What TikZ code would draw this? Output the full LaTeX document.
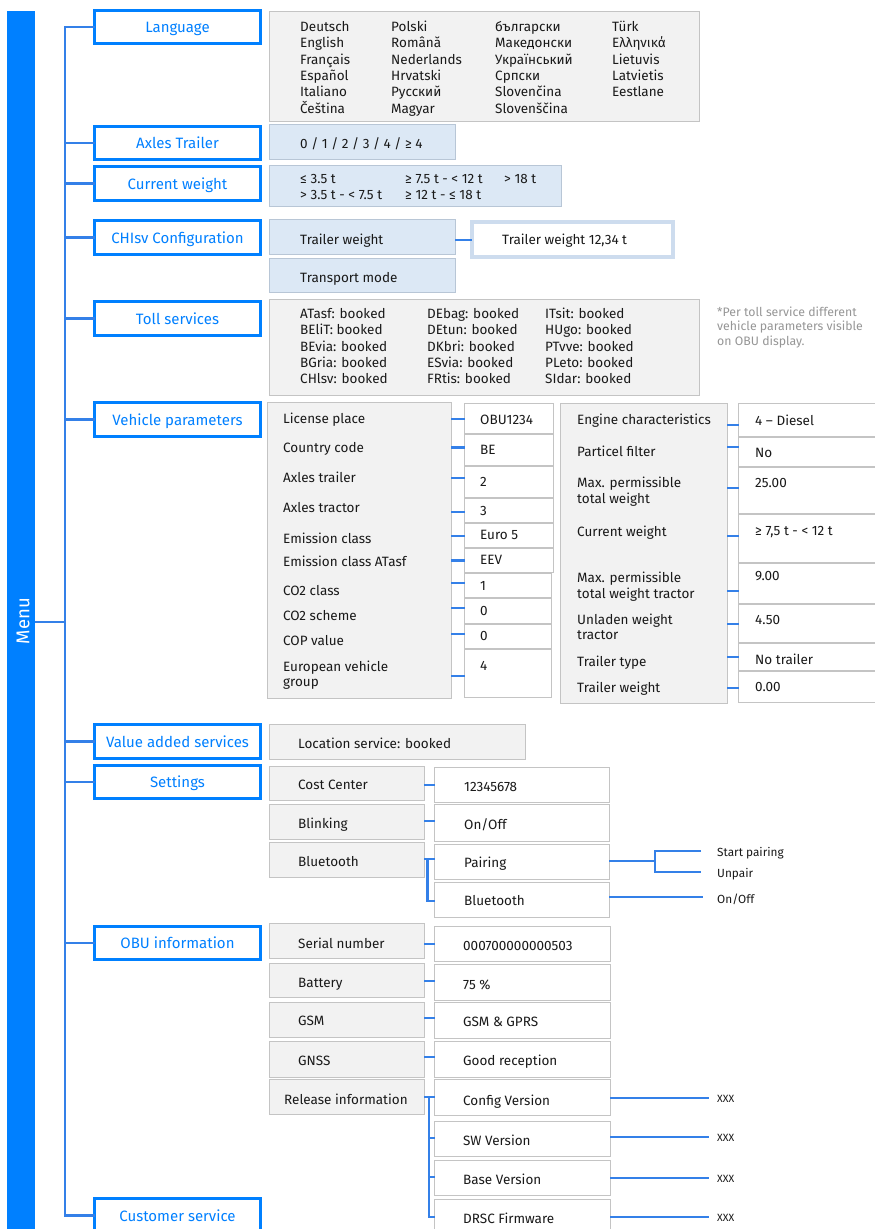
\documentclass[tikz,border=0pt]{standalone}
\usepackage{fontspec}
\setmainfont{Fira Sans}
\usetikzlibrary{calc}
\definecolor{menublue}{RGB}{0,128,255}
\definecolor{linkblue}{RGB}{52,128,232}
\definecolor{grayfill}{RGB}{242,242,242}
\definecolor{grayline}{RGB}{196,196,196}
\definecolor{lbfill}{RGB}{220,232,245}
\definecolor{lbline}{RGB}{184,198,214}
\definecolor{twvline}{RGB}{205,220,238}
\definecolor{txtc}{RGB}{25,25,25}
\definecolor{notec}{RGB}{150,150,150}
\tikzset{
  menubox/.style={draw=menublue, line width=3pt, fill=white, text=menublue, font=\fontsize{15}{18}\selectfont, text height=11pt, text depth=0pt},
  graybox/.style={draw=grayline, line width=1pt, fill=grayfill},
  bluebox/.style={draw=lbline, line width=1pt, fill=lbfill},
  valbox/.style={draw=grayline, line width=1pt, fill=white},
  twvbox/.style={draw=twvline, line width=3.5pt, fill=white},
  conn/.style={draw=linkblue, line width=2.5pt},
  thinconn/.style={draw=linkblue, line width=2.3pt},
  txt/.style={anchor=base west, inner sep=0, text=txtc, font=\fontsize{13.5}{16}\selectfont},
  smalltxt/.style={anchor=base west, inner sep=0, text=txtc, font=\fontsize{11.8}{14}\selectfont},
  notetxt/.style={anchor=base west, inner sep=0, text=notec, font=\fontsize{12.3}{14}\selectfont},
}
% box from corners: name, x1, y1, x2, y2, style, text
\newcommand\bx[7]{\node[#6, anchor=north west, minimum width={#4pt-#2pt}, minimum height={#5pt-#3pt}, inner sep=0, outer sep=0] (#1) at (#2,#3) {#7};}
% text: name, x, ycenter, text
\newcommand\tx[4]{\node[txt] (#1) at ({#2},{#3+4.6}) {#4};}
\newcommand\sx[4]{\node[smalltxt] (#1) at ({#2},{#3+4}) {#4};}
\begin{document}
\begin{tikzpicture}[x=1pt,y=-1pt]
\useasboundingbox (0,0) rectangle (875,1229);
\clip (0,0) rectangle (875,1229);
\fill[white] (0,0) rectangle (875,1229);

% Menu bar
\node[fill=menublue, anchor=north west, minimum width=28pt, minimum height=1225pt, inner sep=0, outer sep=0] (menubar) at (7,11) {};
\node[rotate=90, text=white, inner sep=0, font=\fontsize{18.5}{20}\selectfont] (menutxt) at (23,621) {Menu};

% Menu boxes
\bx{lang}{94.5}{10.5}{260.5}{43.5}{menubox}{Language}
\bx{axl}{94.5}{126.5}{260.5}{159.5}{menubox}{Axles Trailer}
\bx{cw}{94.5}{166.5}{260.5}{200.5}{menubox}{Current weight}
\bx{chi}{94.5}{220.5}{260.5}{254.5}{menubox}{CHIsv Configuration}
\bx{toll}{94.5}{301.5}{260.5}{335.5}{menubox}{Toll services}
\bx{veh}{94.5}{402.5}{260.5}{436.5}{menubox}{Vehicle parameters}
\bx{vas}{94.5}{724.5}{260.5}{758.5}{menubox}{Value added services}
\bx{set}{94.5}{765.5}{260.5}{798.5}{menubox}{Settings}
\bx{obu}{94.5}{926.5}{260.5}{959.5}{menubox}{OBU information}
\bx{cust}{94.5}{1198.5}{260.5}{1232.5}{menubox}{Customer service}

% Trunk
\coordinate (tk) at (65,0);
\draw[conn] (lang.west) -- (lang.west -| tk) |- (cust.west);
\foreach \n in {axl,cw,chi,toll,veh,vas,set,obu}
  \draw[conn] (\n.west -| tk) -- (\n.west);
\draw[conn] (menubar.east |- 0,622) -- (tk |- 0,622);

% Language
\bx{langc}{269.5}{11.5}{699}{121}{graybox}{}
\foreach \t [count=\i] in {Deutsch,English,Français,Español,Italiano,Čeština}
  \tx{la\i}{300}{27+16.3*(\i-1)}{\t};
\foreach \t [count=\i] in {Polski,Română,Nederlands,Hrvatski,Русский,Magyar}
  \tx{lb\i}{391}{27+16.3*(\i-1)}{\t};
\foreach \t [count=\i] in {български,Македонски,Український,Српски,Slovenčina,Slovenščina}
  \tx{lc\i}{495}{27+16.3*(\i-1)}{\t};
\foreach \t [count=\i] in {Türk,Ελληνικά,Lietuvis,Latvietis,Eestlane}
  \tx{ld\i}{612}{27+16.3*(\i-1)}{\t};

% Axles trailer
\bx{axlc}{269.5}{124.5}{455}{159}{bluebox}{}
\tx{axlt}{300}{144}{0 / 1 / 2 / 3 / 4 / ≥ 4}

% Current weight
\bx{cwc}{269.5}{165.5}{561}{206}{bluebox}{}
\tx{cw1}{300}{179}{≤ 3.5 t}
\tx{cw2}{405}{179}{≥ 7.5 t - < 12 t}
\tx{cw3}{504}{179}{> 18 t}
\tx{cw4}{300}{195}{> 3.5 t - < 7.5 t}
\tx{cw5}{405}{195}{≥ 12 t - ≤ 18 t}

% CHIsv configuration
\bx{tw}{269.5}{219.5}{455}{254}{bluebox}{}
\tx{twt}{300}{240}{Trailer weight}
\bx{tm}{269.5}{258}{455}{292}{bluebox}{}
\tx{tmt}{300}{278}{Transport mode}
\bx{twv}{472}{222}{673}{257}{twvbox}{}
\tx{twvt}{502}{240}{Trailer weight 12,34 t}
\draw[thinconn] (tw.east |- 0,240) -- (twv.west |- 0,240);

% Toll services
\bx{tollc}{269.5}{299.5}{699}{395}{graybox}{}
\foreach \t [count=\i] in {ATasf,BEliT,BEvia,BGria,CHlsv}
  \tx{ta\i}{300}{314+16.3*(\i-1)}{\t: booked};
\foreach \t [count=\i] in {DEbag,DEtun,DKbri,ESvia,FRtis}
  \tx{tb\i}{427}{314+16.3*(\i-1)}{\t: booked};
\foreach \t [count=\i] in {ITsit,HUgo,PTvve,PLeto,SIdar}
  \tx{tc\i}{545}{314+16.3*(\i-1)}{\t: booked};
\foreach \t [count=\i] in {*Per toll service different,vehicle parameters visible,on OBU display.}
  \node[notetxt] (note\i) at (717,{312+4.2+14.5*(\i-1)}) {\t};

% Vehicle parameters, left column
\bx{vpl}{267.5}{402.5}{451}{698}{graybox}{}
\tx{p1}{283}{419}{License place}
\tx{p2}{283}{448}{Country code}
\tx{p3}{283}{478}{Axles trailer}
\tx{p4}{283}{508}{Axles tractor}
\tx{p5}{283}{539}{Emission class}
\tx{p6}{283}{562}{Emission class ATasf}
\tx{p7}{283}{591}{CO2 class}
\tx{p8}{283}{616}{CO2 scheme}
\tx{p9}{283}{641}{COP value}
\tx{p10}{283}{667}{European vehicle}
\tx{p10b}{283}{682}{group}
\bx{v1}{464.5}{403.5}{553}{433}{valbox}{}
\bx{v2}{464.5}{434}{553}{465}{valbox}{}
\bx{v3}{464.5}{466}{553}{497}{valbox}{}
\bx{v4}{464.5}{498}{553}{522}{valbox}{}
\bx{v5}{464.5}{523}{553}{547}{valbox}{}
\bx{v6}{464.5}{548}{553}{572}{valbox}{}
\bx{v7}{464.5}{573}{551.5}{597}{valbox}{}
\bx{v8}{464.5}{598}{551.5}{623}{valbox}{}
\bx{v9}{464.5}{624}{551.5}{648}{valbox}{}
\bx{v10}{464.5}{649}{551.5}{697}{valbox}{}
\tx{vt1}{480}{420}{OBU1234}
\tx{vt2}{480}{450}{BE}
\tx{vt3}{480}{482}{2}
\tx{vt4}{480}{511}{3}
\tx{vt5}{480}{535}{Euro 5}
\tx{vt6}{480}{560}{EEV}
\tx{vt7}{480}{586}{1}
\tx{vt8}{480}{611}{0}
\tx{vt9}{480}{636}{0}
\tx{vt10}{480}{666}{4}
\foreach \i/\y in {1/419,2/447.5,3/478,4/512,5/536,6/560.5,7/583,8/608,9/634,10/676}
  \draw[thinconn] (vpl.east |- 0,\y) -- (v\i.west |- 0,\y);

% Vehicle parameters, right column
\bx{vpr}{560}{403.5}{727}{703}{graybox}{}
\tx{q1}{577}{420}{Engine characteristics}
\tx{q2}{577}{452}{Particel filter}
\tx{q3}{577}{483}{Max. permissible}
\tx{q3b}{577}{499}{total weight}
\tx{q4}{577}{532}{Current weight}
\tx{q5}{577}{578}{Max. permissible}
\tx{q5b}{577}{594}{total weight tractor}
\tx{q6}{577}{620}{Unladen weight}
\tx{q6b}{577}{635}{tractor}
\tx{q7}{577}{662}{Trailer type}
\tx{q8}{577}{688}{Trailer weight}
\bx{w1}{738.5}{403.5}{885}{436}{valbox}{}
\bx{w2}{738.5}{437}{885}{466}{valbox}{}
\bx{w3}{738.5}{467}{885}{513}{valbox}{}
\bx{w4}{738.5}{514}{885}{562}{valbox}{}
\bx{w5}{738.5}{563}{885}{603}{valbox}{}
\bx{w6}{738.5}{604}{885}{642}{valbox}{}
\bx{w7}{738.5}{643}{885}{670}{valbox}{}
\bx{w8}{738.5}{671}{885}{702}{valbox}{}
\tx{wt1}{755}{421}{4 – Diesel}
\tx{wt2}{755}{453}{No}
\tx{wt3}{755}{483}{25.00}
\tx{wt4}{755}{531}{≥ 7,5 t - < 12 t}
\tx{wt5}{755}{576}{9.00}
\tx{wt6}{755}{620}{4.50}
\tx{wt7}{755}{660}{No trailer}
\tx{wt8}{755}{687}{0.00}
\foreach \i/\y in {1/425,2/447,3/488,4/536,5/591,6/624,7/657,8/688}
  \draw[thinconn] (vpr.east |- 0,\y) -- (w\i.west |- 0,\y);

% Value added services
\bx{vasc}{269.5}{724}{525}{759}{graybox}{}
\tx{vast}{298}{744}{Location service: booked}

% Settings
\bx{cc}{269.5}{766}{424}{800}{graybox}{}
\bx{bl}{269.5}{804}{424}{839}{graybox}{}
\bx{bt}{269.5}{842}{424}{877}{graybox}{}
\tx{cct}{298}{785}{Cost Center}
\tx{blt}{298}{824}{Blinking}
\tx{btt}{298}{862}{Bluetooth}
\bx{ccv}{434.5}{767}{609}{802}{valbox}{}
\bx{blv}{434.5}{804}{609}{841}{valbox}{}
\bx{pr}{434.5}{844}{609}{879}{valbox}{}
\bx{btv}{434.5}{882}{609}{917}{valbox}{}
\tx{ccvt}{464}{787}{12345678}
\tx{blvt}{464}{825}{On/Off}
\tx{prt}{464}{863}{Pairing}
\tx{btvt}{464}{901}{Bluetooth}
\draw[thinconn] (cc.east |- 0,785) -- (ccv.west |- 0,785);
\draw[thinconn] (bl.east |- 0,821) -- (blv.west |- 0,821);
\coordinate (btj) at (427.5,859);
\draw[thinconn] (bt.east |- btj) -- (pr.west |- btj);
\draw[thinconn] (btj) |- (btv.west |- 0,901);
\coordinate (pj) at (655,861);
\coordinate (spe) at (701,851);
\coordinate (upe) at (701,872);
\coordinate (bte) at (703,897);
\draw[thinconn] (pr.east |- pj) -- (pj);
\draw[thinconn] (spe) -| (pj) |- (upe);
\draw[thinconn] (btv.east |- bte) -- (bte);
\sx{sp}{717}{852}{Start pairing}
\sx{up}{717}{873}{Unpair}
\sx{bo}{717}{899}{On/Off}

% OBU information
\bx{sn}{269.5}{923}{424}{958}{graybox}{}
\bx{bat}{269.5}{963}{424}{997}{graybox}{}
\bx{gsm}{269.5}{1002}{424}{1037}{graybox}{}
\bx{gnss}{269.5}{1041}{424}{1077}{graybox}{}
\bx{rel}{269.5}{1079}{424}{1114}{graybox}{}
\tx{snt}{298}{944}{Serial number}
\tx{batt}{298}{983}{Battery}
\tx{gsmt}{298}{1021}{GSM}
\tx{gnsst}{298}{1061}{GNSS}
\tx{relt}{284}{1100}{Release information}
\bx{snv}{434.5}{926}{610}{961}{valbox}{}
\bx{batv}{434.5}{964}{610}{1000}{valbox}{}
\bx{gsmv}{434.5}{1002}{610}{1038}{valbox}{}
\bx{gnv}{434.5}{1041}{610}{1077}{valbox}{}
\bx{cfg}{434.5}{1079}{610}{1115}{valbox}{}
\bx{sw}{434.5}{1121}{610}{1156}{valbox}{}
\bx{base}{434.5}{1160}{610}{1195}{valbox}{}
\bx{drsc}{434.5}{1199}{610}{1240}{valbox}{}
\tx{snvt}{463}{946}{000700000000503}
\tx{batvt}{463}{985}{75 \%}
\tx{gsmvt}{463}{1022}{GSM \& GPRS}
\tx{gnvt}{463}{1061}{Good reception}
\tx{cfgt}{463}{1101}{Config Version}
\tx{swt}{463}{1141}{SW Version}
\tx{baset}{463}{1180}{Base Version}
\tx{drsct}{463}{1219}{DRSC Firmware}
\draw[thinconn] (sn.east |- 0,944) -- (snv.west |- 0,944);
\draw[thinconn] (bat.east |- 0,981) -- (batv.west |- 0,981);
\draw[thinconn] (gsm.east |- 0,1018) -- (gsmv.west |- 0,1018);
\draw[thinconn] (gnss.east |- 0,1057) -- (gnv.west |- 0,1057);
\coordinate (rj) at (429,1097);
\draw[thinconn] (rel.east |- rj) -- (cfg.west |- rj);
\draw[thinconn] (rj) |- (drsc.west |- 0,1217);
\draw[thinconn] (rj |- 0,1138) -- (sw.west |- 0,1138);
\draw[thinconn] (rj |- 0,1177) -- (base.west |- 0,1177);
\foreach \n/\y/\k in {cfg/1098/1,sw/1137/2,base/1178/3,drsc/1217/4}{
  \coordinate (xe\k) at (709,\y);
  \draw[thinconn] (\n.east |- xe\k) -- (xe\k);
  \node[smalltxt, font=\fontsize{10.5}{12}\selectfont] (xx\k) at (717,{\y+4}) {XXX};
}
\end{tikzpicture}
\end{document}
